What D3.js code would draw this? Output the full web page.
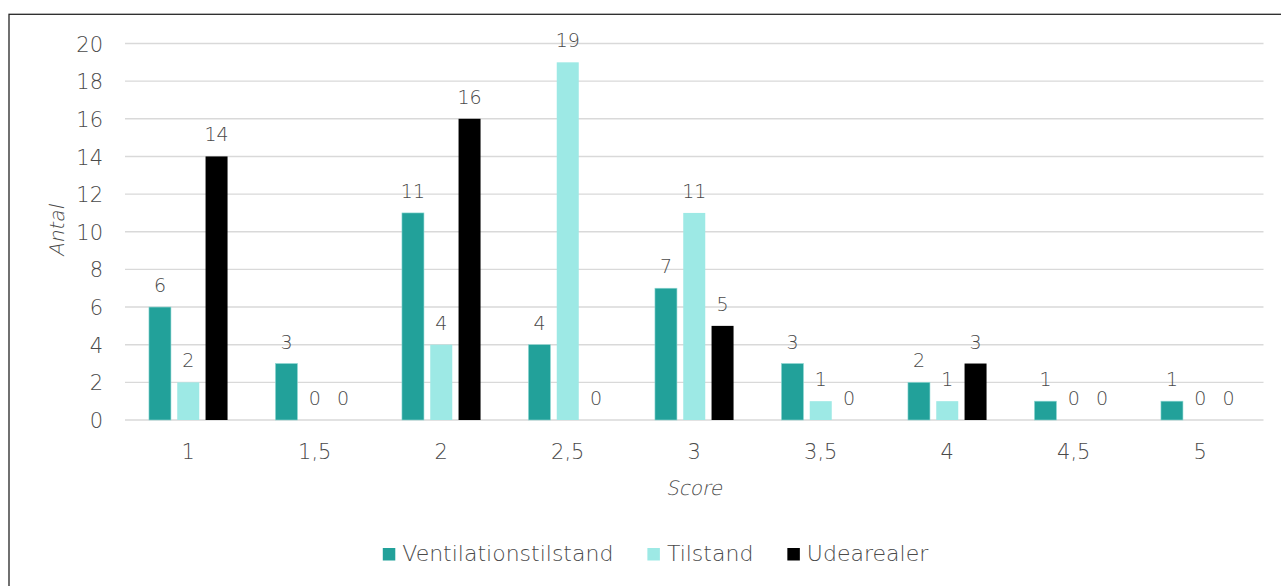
<!DOCTYPE html>
<html>
<head>
<meta charset="utf-8">
<script src="https://cdn.jsdelivr.net/npm/d3@7"></script>
<style>
  html, body { margin: 0; padding: 0; background: #fff; overflow: hidden; }
  svg { display: block; font-family: "DejaVu Sans", sans-serif; font-weight: 200; }
</style>
</head>
<body>
<svg id="chart" width="1281" height="586"></svg>
<script>
const categories = ["1", "1,5", "2", "2,5", "3", "3,5", "4", "4,5", "5"];
const seriesNames = ["Ventilationstilstand", "Tilstand", "Udearealer"];
const ventilationstilstand = [6, 3, 11, 4, 7, 3, 2, 1, 1];
const tilstand = [2, 0, 4, 19, 11, 1, 1, 0, 0];
const udearealer = [14, 0, 16, 0, 5, 0, 3, 0, 0];
const yTicks = [0, 2, 4, 6, 8, 10, 12, 14, 16, 18, 20];
const colors = ["#22a19a", "#9de9e5", "#000000"];

const seriesValues = [ventilationstilstand, tilstand, udearealer];
const svg = d3.select("#chart");
const textColor = "#4a4a4a";

// outer chart border (extends beyond the viewport on the right/bottom)
svg.append("rect")
  .attr("x", 9).attr("y", 14.3)
  .attr("width", 1300).attr("height", 600)
  .attr("fill", "none").attr("stroke", "#262626").attr("stroke-width", 1.3);

const plot = { left: 125, right: 1263.5, top: 43.5, bottom: 420 };

const x = d3.scaleBand().domain(categories).range([plot.left, plot.right]);
const y = d3.scaleLinear().domain([0, 20]).range([plot.bottom, plot.top]);
const barW = 22, barGap = 6.3;
const xSub = d3.scaleBand().domain(seriesNames)
  .range([0, 3 * barW + 2 * barGap]).paddingInner(barGap / (barW + barGap));

// gridlines
svg.append("g").selectAll("line").data(yTicks).join("line")
  .attr("x1", plot.left).attr("x2", plot.right)
  .attr("y1", d => y(d)).attr("y2", d => y(d))
  .attr("stroke", "#d9d9d9").attr("stroke-width", 1.4);

// y axis labels
const yAxis = d3.axisLeft(y).tickValues(yTicks).tickSize(0).tickPadding(0);
const yg = svg.append("g").attr("transform", `translate(${103},0)`).call(yAxis);
yg.select(".domain").remove();
yg.selectAll("text").attr("fill", textColor).attr("font-size", 21)
  .attr("font-family", "DejaVu Sans").attr("font-weight", 200).attr("dy", "0.36em");

// x axis labels
const xAxis = d3.axisBottom(x).tickSize(0).tickPadding(0);
const xg = svg.append("g").attr("transform", `translate(0,${459})`).call(xAxis);
xg.select(".domain").remove();
xg.selectAll("text").attr("fill", textColor).attr("font-size", 21)
  .attr("font-family", "DejaVu Sans").attr("font-weight", 200).attr("dy", 0);

// bars + labels
const groupOffset = (x.bandwidth() - (3 * barW + 2 * barGap)) / 2;
seriesNames.forEach((name, si) => {
  const vals = seriesValues[si];
  const g = svg.append("g");
  g.selectAll("rect").data(vals).join("rect")
    .attr("x", (d, i) => x(categories[i]) + groupOffset + xSub(name))
    .attr("y", d => y(d))
    .attr("width", xSub.bandwidth())
    .attr("height", d => y(0) - y(d))
    .attr("fill", colors[si])
    .attr("stroke", si === 0 ? "#8fd8d3" : "none")
    .attr("stroke-width", si === 0 ? 0.6 : 0);
  g.selectAll("text").data(vals).join("text")
    .attr("x", (d, i) => x(categories[i]) + groupOffset + xSub(name) + xSub.bandwidth() / 2)
    .attr("y", d => y(d) - 15)
    .attr("text-anchor", "middle")
    .attr("font-size", 19)
    .attr("fill", textColor)
    .text(d => d);
});

// axis titles (light weight, slanted)
svg.append("text")
  .attr("transform", "translate(694,495) skewX(-12)")
  .attr("text-anchor", "middle").attr("font-size", 20)
  .attr("fill", textColor)
  .text("Score");
svg.append("text")
  .attr("transform", "translate(64,231) rotate(-90) skewX(-12)")
  .attr("text-anchor", "middle").attr("font-size", 20)
  .attr("fill", textColor)
  .text("Antal");

// legend
const legend = svg.append("g");
const sq = 12.5, sqGap = 7, itemGap = 34;
const items = legend.selectAll("g").data(seriesNames).join("g");
items.append("rect")
  .attr("width", sq).attr("height", sq).attr("y", 548)
  .attr("fill", (d, i) => colors[i]);
items.append("text")
  .attr("x", sq + sqGap).attr("y", 561)
  .attr("font-size", 22).attr("fill", textColor)
  .text(d => d);
const widths = [];
items.each(function () {
  widths.push(d3.select(this).select("text").node().getComputedTextLength());
});
const total = widths.reduce((a, w) => a + sq + sqGap + w, 0) + itemGap * (widths.length - 1);
let start = 655.5 - total / 2;
items.attr("transform", (d, i) => {
  const t = `translate(${start},0)`;
  start += sq + sqGap + widths[i] + itemGap;
  return t;
});
</script>
</body>
</html>
